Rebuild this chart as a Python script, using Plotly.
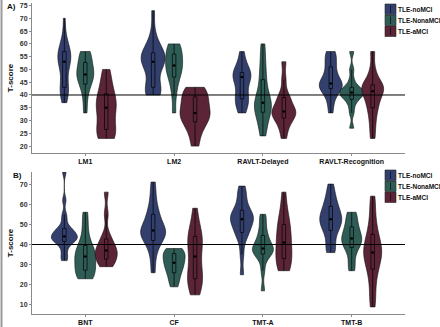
import numpy as np
import plotly.graph_objects as go
from plotly.subplots import make_subplots

groups = ["TLE-noMCI", "TLE-NonaMCI", "TLE-aMCI"]
tests_a = ["LM1", "LM2", "RAVLT-Delayed", "RAVLT-Recognition"]
tests_b = ["BNT", "CF", "TMT-A", "TMT-B"]
cutoff = 40

# Panel A samples (T-scores)
lm1_nomci = [37, 40, 41, 42, 43, 43, 47, 50, 52, 53, 53, 54, 55, 56, 57, 57, 58, 60, 63, 70]
lm1_nonamci = [33, 38, 42, 44, 45, 47, 48, 48, 49, 51, 52, 53, 55, 57, 57]
lm1_amci = [23, 23, 25, 27, 28, 33, 35, 36, 37, 40, 42, 46, 50]
lm2_nomci = [40, 40, 41, 42, 43, 43, 48, 51, 52, 53, 53, 54, 55, 55, 56, 57, 58, 60, 64, 73]
lm2_nonamci = [33, 40, 44, 47, 48, 50, 51, 52, 54, 55, 56, 58, 60, 60]
lm2_amci = [20, 25, 28, 30, 31, 33, 33, 35, 37, 39, 40, 42, 43]
ravd_nomci = [33, 35, 37, 38, 40, 40, 44, 47, 47, 47, 48, 49, 50, 53, 57]
ravd_nonamci = [24, 27, 30, 33, 34, 35, 36, 37, 38, 40, 43, 47, 50, 55, 60]
ravd_amci = [23, 27, 29, 31, 32, 33, 33, 34, 35, 37, 39, 40, 46, 53]
ravr_nomci = [33, 37, 40, 42, 43, 43, 44, 44, 45, 46, 48, 50, 52, 54, 56, 57]
ravr_nonamci = [27, 33, 36, 38, 39, 40, 40, 41, 41, 42, 43, 43, 46, 50, 57]
ravr_amci = [23, 28, 32, 35, 37, 39, 41, 42, 43, 43, 44, 46, 50, 57]

# Panel B samples (T-scores)
bnt_nomci = [32, 34, 37, 40, 41, 42, 42, 43, 44, 44, 44, 45, 46, 47, 48, 48, 52, 55, 62, 76]
bnt_nonamci = [23, 23, 25, 27, 28, 30, 32, 34, 35, 36, 38, 40, 44, 50, 56]
bnt_amci = [29, 30, 32, 33, 35, 36, 37, 38, 40, 42, 45, 55, 66]
cf_nomci = [26, 33, 38, 41, 42, 44, 45, 46, 47, 47, 48, 50, 52, 55, 56, 60, 65, 71]
cf_nonamci = [19, 22, 25, 27, 29, 30, 32, 33, 35, 36, 37, 38]
cf_amci = [15, 19, 21, 23, 24, 28, 32, 36, 40, 42, 44, 45, 50, 58]
tmta_nomci = [25, 35, 42, 45, 46, 48, 50, 51, 52, 53, 54, 55, 56, 57, 60, 63, 66, 69]
tmta_nonamci = [17, 27, 33, 35, 36, 37, 38, 38, 39, 41, 43, 45, 48, 52, 55]
tmta_amci = [27, 28, 30, 33, 35, 37, 40, 42, 45, 48, 50, 53, 58, 66]
tmtb_nomci = [36, 37, 40, 44, 47, 48, 50, 51, 52, 53, 54, 55, 57, 59, 60, 63, 66, 70]
tmtb_nonamci = [27, 30, 35, 38, 40, 41, 42, 43, 44, 46, 48, 49, 52, 55, 56]
tmtb_amci = [9, 15, 22, 27, 30, 33, 35, 36, 38, 40, 42, 46, 50, 57, 64]

panel_a = [[lm1_nomci, lm1_nonamci, lm1_amci],
           [lm2_nomci, lm2_nonamci, lm2_amci],
           [ravd_nomci, ravd_nonamci, ravd_amci],
           [ravr_nomci, ravr_nonamci, ravr_amci]]
panel_b = [[bnt_nomci, bnt_nonamci, bnt_amci],
           [cf_nomci, cf_nonamci, cf_amci],
           [tmta_nomci, tmta_nonamci, tmta_amci],
           [tmtb_nomci, tmtb_nonamci, tmtb_amci]]

# styling
colors = ["#33406d", "#2f5d56", "#5b2537"]
FONT = "Liberation Sans"
dodge = 0.236
x_range = [-0.6, 3.6]
H, W = 327, 440
ml, mr, mt, mb = 32, 35, 3, 13
plot_w = W - ml - mr
plot_h = H - mt - mb
px_per_unit = plot_w / (x_range[1] - x_range[0])
# visual max widths of each violin in pixels (ggplot area-scaling look)
widths_a = [[13, 17, 20], [24, 17, 30], [18, 17, 24], [23, 24, 22]]
widths_b = [[26, 21, 22], [25, 22, 15], [23, 21, 16], [22, 20, 18]]
box_px = 3.5

fig = make_subplots(rows=2, cols=1, vertical_spacing=0.06)


def nrd0(v):
    v = np.asarray(v, float)
    sd = v.std(ddof=1)
    iqr = np.subtract(*np.percentile(v, [75, 25]))
    s = min(sd, iqr / 1.34) if iqr > 0 else sd
    return 0.9 * s * len(v) ** -0.2


def add_panel(panel, widths, row):
    for ci, trip in enumerate(panel):
        for gi, vals in enumerate(trip):
            xpos = ci + (gi - 1) * dodge
            w = widths[ci][gi] / px_per_unit
            fig.add_trace(go.Violin(
                x=[xpos] * len(vals), y=vals, name=groups[gi], showlegend=False,
                width=w, spanmode="hard", bandwidth=nrd0(vals) * 0.9,
                fillcolor=colors[gi], opacity=1,
                line=dict(color="#111111", width=0.6),
                points=False, scalemode="width",
                box=dict(visible=True, width=box_px / widths[ci][gi],
                         fillcolor=colors[gi], line=dict(color="#000000", width=0.7)),
                meanline=dict(visible=False), hoverinfo="skip",
            ), row=row, col=1)
            fig.add_trace(go.Scatter(
                x=[xpos], y=[float(np.median(vals))], mode="markers",
                marker=dict(color="black", size=2.5), showlegend=False, hoverinfo="skip",
            ), row=row, col=1)


add_panel(panel_a, widths_a, 1)
add_panel(panel_b, widths_b, 2)

top_dom = [(H - mb - 153) / plot_h, 1.0]
bot_dom = [0.0, (H - mb - 172) / plot_h]

axis_common = dict(showline=True, linecolor="#8a8a8a", linewidth=1, ticks="outside",
                   ticklen=2, tickcolor="#8a8a8a", showgrid=False, zeroline=False,
                   tickfont=dict(size=7, color="#333333", family=FONT, weight="bold"))

fig.update_xaxes(**axis_common, range=x_range, tickvals=list(range(4)))
fig.update_xaxes(ticktext=tests_a, row=1, col=1,
                 tickfont=dict(size=7, color="#111111", family=FONT, weight="bold"))
fig.update_xaxes(ticktext=tests_b, row=2, col=1,
                 tickfont=dict(size=7, color="#111111", family=FONT, weight="bold"))
fig.update_yaxes(**axis_common)
ytitle = dict(text="<b>T-score</b>", font=dict(size=8, color="#111111", family=FONT), standoff=5)
fig.update_yaxes(range=[17.3, 76], tickvals=list(range(20, 80, 5)), domain=top_dom,
                 row=1, col=1, title=ytitle)
fig.update_yaxes(range=[5.5, 76], tickvals=list(range(10, 80, 10)), domain=bot_dom,
                 row=2, col=1, title=ytitle)

for xr, yr in [("x", "y"), ("x2", "y2")]:
    fig.add_shape(type="line", xref=xr + " domain", yref=yr, x0=0, x1=1, y0=cutoff, y1=cutoff,
                  line=dict(color="black", width=1))


def px_x(x):
    return (x - ml) / plot_w


def px_y(y):
    return (H - mb - y) / plot_h


# figure frame line at left edge
fig.add_shape(type="line", xref="paper", yref="paper", x0=px_x(1.5), x1=px_x(1.5),
              y0=px_y(H), y1=px_y(0), line=dict(color="#9a9a9a", width=2))

fig.add_annotation(text="<b>A)</b>", xref="paper", yref="paper", x=px_x(11), y=px_y(7),
                   xanchor="center", yanchor="middle", showarrow=False,
                   font=dict(size=8, color="#111111", family=FONT))
fig.add_annotation(text="<b>B)</b>", xref="paper", yref="paper", x=px_x(17), y=px_y(175),
                   xanchor="center", yanchor="middle", showarrow=False,
                   font=dict(size=8, color="#111111", family=FONT))

# legends (one per panel), drawn as keys + labels
for top in (4, 170):
    for gi, g in enumerate(groups):
        y0 = top + gi * 11
        fig.add_shape(type="rect", xref="paper", yref="paper",
                      x0=px_x(385), x1=px_x(396), y0=px_y(y0 + 10.5), y1=px_y(y0),
                      fillcolor=colors[gi], line=dict(color="#222222", width=0.6))
        fig.add_shape(type="line", xref="paper", yref="paper",
                      x0=px_x(390.5), x1=px_x(390.5), y0=px_y(y0 + 9), y1=px_y(y0 + 1.5),
                      line=dict(color="#000000", width=0.6))
        fig.add_annotation(text="<b>" + g + "</b>", xref="paper", yref="paper",
                           x=px_x(397), y=px_y(y0 + 5.5), xanchor="left", yanchor="middle",
                           showarrow=False, borderpad=0,
                           font=dict(size=6.5, color="#111111", family=FONT))

fig.update_layout(
    width=W, height=H, margin=dict(l=ml, r=mr, t=mt, b=mb, autoexpand=False),
    paper_bgcolor="white", plot_bgcolor="white",
    violinmode="overlay", showlegend=False,
)

fig.write_html("out.html", config={"displayModeBar": False},
               post_script="document.body.style.margin='0';")
